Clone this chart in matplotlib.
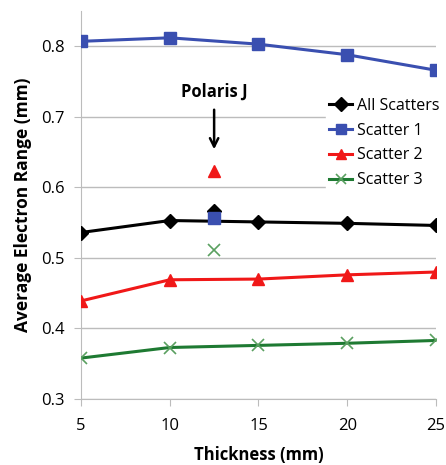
import numpy as np
import matplotlib.pyplot as plt

plt.rcParams['font.family'] = ['Open Sans', 'DejaVu Sans']

# data
thickness = [5, 10, 15, 20, 25]
all_scatters = [0.536, 0.553, 0.551, 0.549, 0.546]
scatter_1 = [0.807, 0.812, 0.803, 0.788, 0.766]
scatter_2 = [0.439, 0.469, 0.470, 0.476, 0.480]
scatter_3 = [0.358, 0.373, 0.376, 0.379, 0.383]

# Polaris J single points
polaris_x = 12.5
polaris_all = 0.566
polaris_s1 = 0.557
polaris_s2 = 0.623
polaris_s3 = 0.511

fig = plt.figure(figsize=(4.46, 4.65), dpi=100)
ax = fig.add_axes([81 / 446, 1 - 399 / 465, (436 - 81) / 446, (399 - 11) / 465])

ax.plot(thickness, all_scatters, color='black', marker='D', markersize=7, lw=2.2,
        label='All Scatters', zorder=5)
ax.plot(thickness, scatter_1, color='#3a4fb0', marker='s', markersize=8, lw=2.2,
        label='Scatter 1', zorder=5)
ax.plot(thickness, scatter_2, color='#f01818', marker='^', markersize=9, lw=2.2,
        label='Scatter 2', zorder=5)
ax.plot(thickness, scatter_3, color='#1e7a32', marker='x', markersize=9, mew=1.2,
        mec='#5aa060', lw=2.2, label='Scatter 3', zorder=5)

ax.plot(polaris_x, polaris_all, color='black', marker='D', markersize=7, zorder=6)
ax.plot(polaris_x, polaris_s1, color='#3a4fb0', marker='s', markersize=8, zorder=7)
ax.plot(polaris_x, polaris_s2, color='#f01818', marker='^', markersize=9, zorder=6)
ax.plot(polaris_x, polaris_s3, color='#5aa060', marker='x', markersize=9, mew=1.2, zorder=6)

ax.annotate('', xy=(polaris_x, 0.650), xytext=(polaris_x, 0.714),
            arrowprops=dict(arrowstyle='->', color='black', lw=1.8, mutation_scale=15))
ax.text(polaris_x, 0.736, 'Polaris J', ha='center', va='center', fontsize=12,
        fontweight='bold')

ax.set_xlim(5, 25)
ax.set_ylim(0.3, 0.85)
ax.set_xticks(thickness)
ax.set_yticks([0.3, 0.4, 0.5, 0.6, 0.7, 0.8])
ax.set_yticklabels(['0.3', '0.4', '0.5', '0.6', '0.7', '0.8'])
ax.grid(axis='y', color='#bcbcbc', lw=1)
ax.set_axisbelow(True)
for s in ['top', 'right']:
    ax.spines[s].set_visible(False)
for s in ['left', 'bottom']:
    ax.spines[s].set_color('#bcbcbc')
ax.tick_params(axis='both', colors='#bcbcbc', labelcolor='black', labelsize=12,
               length=5, direction='out')
ax.tick_params(axis='x', pad=9)
ax.tick_params(axis='y', pad=7)

ax.set_xlabel('Thickness (mm)', fontsize=12, fontweight='bold', labelpad=8)
ax.set_ylabel('Average Electron Range (mm)', fontsize=12.5, fontweight='bold', labelpad=6)

leg = ax.legend(loc='upper right', bbox_to_anchor=(1.04, 0.805), frameon=True,
                fancybox=False, edgecolor='white', framealpha=1, fontsize=11.5,
                handlelength=1.4, handletextpad=0.3, labelspacing=0.55,
                borderpad=0.2)
leg.set_zorder(4)
for h in leg.legend_handles:
    h.set_markersize(7)

fig.savefig('out.png', dpi=100)
